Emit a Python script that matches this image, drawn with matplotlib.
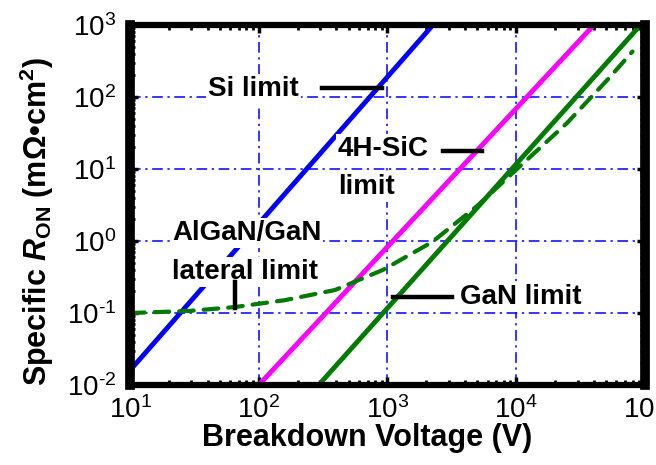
import matplotlib
import numpy as np

matplotlib.use("Agg")
import matplotlib.pyplot as plt
from matplotlib.ticker import FuncFormatter, LogLocator

# --- Data (breakdown voltage in V, R_on in mOhm*cm^2) ---
SI_V = [10, 2250]
SI_R = [0.016, 1000]

SIC_V = [100, 40000]
SIC_R = [0.01, 1000]

GAN_V = [292, 87000]
GAN_R = [0.01, 890]

LATERAL_V = [10, 29, 65, 160, 391, 923, 2220, 5000, 10300, 24800, 53500, 80000]
LATERAL_R = [0.1, 0.107, 0.121, 0.151, 0.209, 0.398, 0.968, 3.1, 10.3, 43.6, 190, 430]

X_LIM = (10, 1e5)
Y_LIM = (1e-2, 1e3)

# --- Styling ---
BLUE = "#0000ff"
MAGENTA = "#ff00ff"
GREEN = "#007a00"
GRID_COLOR = "#0000ff"

plt.rcParams["font.family"] = ["Liberation Sans", "DejaVu Sans"]
plt.rcParams["mathtext.fontset"] = "custom"
plt.rcParams["mathtext.rm"] = "Liberation Sans"
plt.rcParams["mathtext.bf"] = "Liberation Sans:bold"
plt.rcParams["mathtext.it"] = "Liberation Sans:italic:bold"


def power_label(value, pos):
    # short hyphen in the exponent, like the original figure
    exponent = str(int(round(np.log10(value)))).replace("-", "\u2010")
    return r"$\mathrm{10^{%s}}$" % exponent


def main():
    figure = plt.figure(figsize=(6.56, 4.65), dpi=100)
    axis = figure.add_axes([0.1982, 0.172, 0.785, 0.774])

    axis.plot(SI_V, SI_R, color=BLUE, linewidth=3.5, solid_capstyle="round")
    axis.plot(SIC_V, SIC_R, color=MAGENTA, linewidth=3.5, solid_capstyle="round")
    axis.plot(GAN_V, GAN_R, color=GREEN, linewidth=3.5, solid_capstyle="round")
    axis.plot(LATERAL_V, LATERAL_R, color=GREEN, linewidth=3,
              linestyle=(0, (3.5, 2.4)), dash_capstyle="round")

    axis.set_xscale("log")
    axis.set_yscale("log")
    axis.set_xlim(*X_LIM)
    axis.set_ylim(*Y_LIM)

    axis.xaxis.set_major_locator(LogLocator(base=10, numticks=10))
    axis.yaxis.set_major_locator(LogLocator(base=10, numticks=10))
    axis.xaxis.set_minor_locator(LogLocator(base=10, subs=np.arange(2, 10), numticks=20))
    axis.yaxis.set_minor_locator(LogLocator(base=10, subs=np.arange(2, 10), numticks=20))
    axis.xaxis.set_major_formatter(FuncFormatter(power_label))
    axis.yaxis.set_major_formatter(FuncFormatter(power_label))

    axis.tick_params(which="both", direction="in", top=True, right=True)
    axis.tick_params(which="major", length=6, width=2.5, labelsize=20)
    axis.tick_params(which="minor", length=3.8, width=2)
    axis.tick_params(axis="x", which="major", pad=8)
    axis.tick_params(axis="y", which="major", pad=10)

    for side in ("left", "right"):
        axis.spines[side].set_linewidth(7)
    for side in ("top", "bottom"):
        axis.spines[side].set_linewidth(4.5)

    axis.grid(which="major", color=GRID_COLOR, linestyle=(0, (7, 3, 1.5, 3)),
              linewidth=1.1)

    axis.set_xlabel("Breakdown Voltage (V)", fontsize=22, fontweight="bold")
    axis.set_ylabel(r"Specific $\mathit{R}_{\mathbf{ON}}$ (mΩ•cm$^{\mathbf{2}}$)",
                    fontsize=22, fontweight="bold")
    axis.xaxis.set_label_coords(0.46, -0.147)
    axis.xaxis.label.set_va("center")
    axis.yaxis.set_label_coords(-0.18, 0.453)
    axis.yaxis.label.set_va("center")

    # --- Annotations with pointer lines ---
    box = dict(facecolor="white", edgecolor="none", pad=1.5)
    text_style = dict(fontsize=20, fontweight="bold", ha="left", va="center",
                      bbox=box, zorder=4)

    axis.text(40.4, 129, "Si limit", **text_style)
    axis.plot([309, 906], [133, 133], color="black", linewidth=3.2, zorder=5)

    axis.text(412, 19, "4H-SiC", **text_style)
    axis.text(412, 5.6, "limit", **text_style)
    axis.plot([2690, 5420], [17.8, 17.8], color="black", linewidth=3.2, zorder=5)

    axis.text(21.2, 1.29, "AlGaN/GaN", **text_style)
    axis.text(21.2, 0.37, "lateral limit", **text_style)
    axis.plot([65.5, 65.5], [0.27, 0.117], color="black", linewidth=3.2, zorder=5)

    axis.text(3660, 0.167, "GaN limit", **text_style)
    axis.plot([1100, 3160], [0.167, 0.167], color="black", linewidth=3.2, zorder=5)

    figure.savefig("out.png", dpi=100)
    plt.close(figure)


if __name__ == "__main__":
    main()
